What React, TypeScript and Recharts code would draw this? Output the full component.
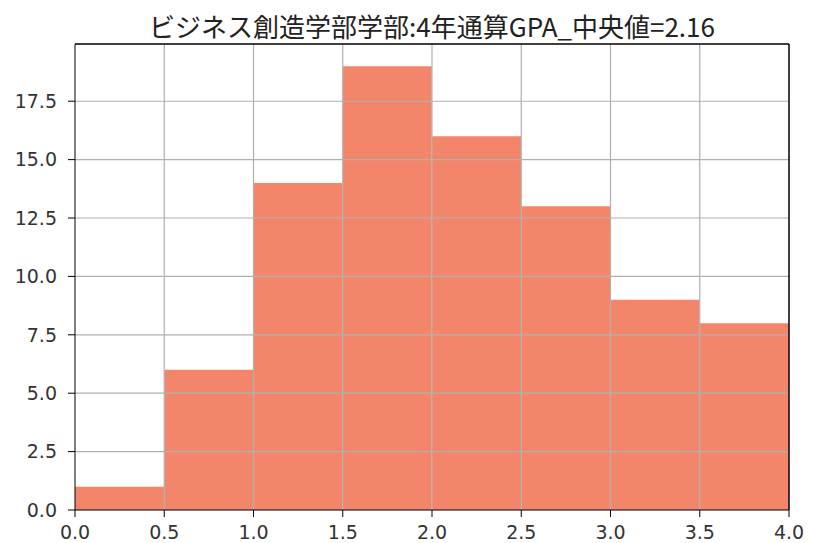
import React from "react";
import { BarChart, Bar, XAxis, YAxis, ReferenceLine } from "recharts";

const binCenters = [0.25, 0.75, 1.25, 1.75, 2.25, 2.75, 3.25, 3.75];
const counts = [1, 6, 14, 19, 16, 13, 9, 8];
const xTicks = [0, 0.5, 1, 1.5, 2, 2.5, 3, 3.5, 4];
const yTicks = [0, 2.5, 5, 7.5, 10, 12.5, 15, 17.5];
const title = "ビジネス創造学部学部:4年通算GPA_中央値=2.16";

const data = binCenters.map((x, i) => ({ x, count: counts[i] }));
const yMax = 19.95;

const fmt = (v: number) => v.toFixed(1);
const tickStyle = { fill: "#333", fontSize: 19, fontFamily: "'DejaVu Sans', sans-serif" };

export default function App() {
  return (
    <div style={{ position: "absolute", left: 0, top: 0, width: 816, height: 543, background: "#fff" }}>
      <div
        style={{
          position: "absolute",
          left: 0,
          width: 864,
          top: 10,
          textAlign: "center",
          fontFamily: "'Noto Sans CJK JP', sans-serif",
          fontSize: 26,
          color: "#222",
          lineHeight: "32px",
          whiteSpace: "nowrap",
        }}
      >
        {title}
      </div>
      <BarChart
        width={816}
        height={543}
        data={data}
        margin={{ top: 44, right: 27, left: 15, bottom: 3 }}
        barCategoryGap={0}
        barGap={0}
      >
        <XAxis
          dataKey="x"
          type="number"
          domain={[0, 4]}
          ticks={xTicks}
          tickFormatter={fmt}
          height={30}
          stroke="#000"
          tickSize={7}
          tickMargin={9}
          tick={tickStyle}
          allowDataOverflow
        />
        <YAxis
          type="number"
          domain={[0, yMax]}
          ticks={yTicks}
          tickFormatter={fmt}
          width={60}
          stroke="#000"
          tickSize={7}
          tickMargin={11}
          tick={tickStyle}
          allowDataOverflow
        />
        <Bar dataKey="count" fill="#F3866A" isAnimationActive={false} />
        {xTicks.slice(1, -1).map((t) => (
          <ReferenceLine key={"gx" + t} x={t} stroke="#b0b0b0" strokeWidth={1.2} />
        ))}
        {yTicks.slice(1).map((t) => (
          <ReferenceLine key={"gy" + t} y={t} stroke="#b0b0b0" strokeWidth={1.2} />
        ))}
        <ReferenceLine y={yMax} stroke="#000" strokeWidth={1.5} />
        <ReferenceLine x={4} stroke="#000" strokeWidth={1.5} />
      </BarChart>
    </div>
  );
}
